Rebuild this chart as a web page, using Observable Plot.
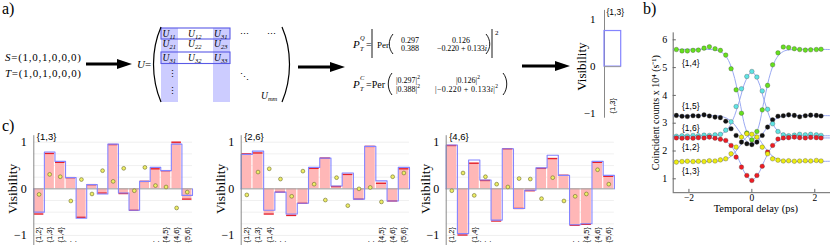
<!DOCTYPE html>
<html><head><meta charset="utf-8">
<script src="https://cdn.jsdelivr.net/npm/d3@7"></script>
<script src="https://cdn.jsdelivr.net/npm/@observablehq/plot@0.6"></script>
<style>
body{margin:0;width:830px;height:245px;position:relative;background:#fff;overflow:hidden;font-family:"Liberation Serif",serif;}
.abs{position:absolute;}
.lbl{position:absolute;font-family:"Liberation Serif",serif;font-size:16px;line-height:1;}
</style></head><body>
<div class="lbl" style="left:2px;top:1px">a)</div>
<div class="lbl" style="left:643px;top:1px">b)</div>
<div class="lbl" style="left:2px;top:118px">c)</div>
<svg width="830" height="245" style="position:absolute;left:0;top:0" font-family="Liberation Serif">
  <text x="5" y="61" font-size="11" textLength="76" lengthAdjust="spacing"><tspan font-style="italic">S</tspan>=(1,0,1,0,0,0)</text>
  <text x="5" y="77" font-size="11" textLength="76" lengthAdjust="spacing"><tspan font-style="italic">T</tspan>=(1,0,1,0,0,0)</text>
  <path d="M86,62.4 H117 V59 L132,64 L117,69 V65.6 H86 Z" fill="#000"/>
  <text x="137" y="68" font-size="11"><tspan font-style="italic">U</tspan>=</text>
  <rect x="161" y="28" width="17" height="74" fill="#ccccff"/>
  <rect x="213" y="28" width="17" height="74" fill="#ccccff"/>
  <rect x="161" y="28" width="69" height="11" fill="none" stroke="#5a5ae6" stroke-width="1.1"/>
  <rect x="161" y="52" width="69" height="11.5" fill="none" stroke="#5a5ae6" stroke-width="1.1"/>
  <path d="M161,27 C151,50 151,78 161,102" fill="none" stroke="#000" stroke-width="1.2"/>
  <path d="M282,27 C292,50 292,78 282,102" fill="none" stroke="#000" stroke-width="1.2"/>
  <g font-size="9.5" font-style="italic">
    <text x="162.5" y="36.5">U<tspan font-size="6.5" dy="2">11</tspan></text>
    <text x="188" y="36.5">U<tspan font-size="6.5" dy="2">12</tspan></text>
    <text x="214" y="36.5">U<tspan font-size="6.5" dy="2">31</tspan></text>
    <text x="162.5" y="47">U<tspan font-size="6.5" dy="2">21</tspan></text>
    <text x="188" y="47">U<tspan font-size="6.5" dy="2">22</tspan></text>
    <text x="214" y="47">U<tspan font-size="6.5" dy="2">23</tspan></text>
    <text x="162.5" y="60.5">U<tspan font-size="6.5" dy="2">31</tspan></text>
    <text x="188" y="60.5">U<tspan font-size="6.5" dy="2">32</tspan></text>
    <text x="214" y="60.5">U<tspan font-size="6.5" dy="2">33</tspan></text>
    <text x="261" y="99">U<tspan font-size="6.5" dy="2">mm</tspan></text>
  </g>
  <g font-size="9">
    <text x="240" y="37">⋯</text><text x="267" y="37">⋯</text>
    <text x="168" y="77">⋮</text><text x="168" y="94">⋮</text>
    <text x="240" y="80">⋱</text>
  </g>
  <path d="M298,65.4 H330 V62 L345,67 L330,72 V68.6 H298 Z" fill="#000"/>
  <g font-size="11">
    <text x="353" y="48" font-style="italic">P</text>
    <text x="360" y="51" font-size="6.5" font-style="italic">T</text>
    <text x="360" y="40" font-size="6.5" font-style="italic">Q</text>
    <text x="366" y="48" font-size="10">=</text>
    <text x="377" y="48" font-size="9">Per</text>
    <text x="353" y="88" font-style="italic">P</text>
    <text x="360" y="91" font-size="6.5" font-style="italic">T</text>
    <text x="360" y="80" font-size="6.5" font-style="italic">C</text>
    <text x="366" y="88" font-size="10">=Per</text>
  </g>
  <line x1="372" y1="29" x2="372" y2="58" stroke="#000" stroke-width="0.9"/>
  <line x1="492" y1="29" x2="492" y2="58" stroke="#000" stroke-width="0.9"/>
  <text x="495" y="35" font-size="7">2</text>
  <path d="M393,34 C388,40 388,48 393,54" fill="none" stroke="#000" stroke-width="0.9"/>
  <path d="M486,34 C491,40 491,48 486,54" fill="none" stroke="#000" stroke-width="0.9"/>
  <g font-size="8" fill="#000">
    <text x="401" y="42.5">0.297</text>
    <text x="401" y="51">0.388</text>
    <text x="452" y="42.5">0.126</text>
    <text x="437" y="51" textLength="50" lengthAdjust="spacing">−0.220 + 0.133<tspan font-style="italic">i</tspan></text>
  </g>
  <path d="M392,73 C387,79 387,89 392,95" fill="none" stroke="#000" stroke-width="0.9"/>
  <path d="M503,73 C508,79 508,89 503,95" fill="none" stroke="#000" stroke-width="0.9"/>
  <g font-size="8" fill="#000">
    <text x="396" y="82.5">|0.297|<tspan font-size="5.5" dy="-4">2</tspan></text>
    <text x="396" y="92">|0.388|<tspan font-size="5.5" dy="-4">2</tspan></text>
    <text x="456" y="82.5">|0.126|<tspan font-size="5.5" dy="-4">2</tspan></text>
    <text x="435" y="92" textLength="63" lengthAdjust="spacing">|−0.220 + 0.133<tspan font-style="italic">i</tspan>|<tspan font-size="5.5" dy="-4">2</tspan></text>
  </g>
  <path d="M522,64.4 H555 V61 L570,66 L555,71 V67.6 H522 Z" fill="#000"/>
</svg>
<div id="pa" class="abs" style="left:570px;top:0px"></div>
<div id="pb" class="abs" style="left:640px;top:25px"></div>
<div id="c1" class="abs" style="left:0px;top:125px"></div>
<div id="c2" class="abs" style="left:200px;top:125px"></div>
<div id="c3" class="abs" style="left:405px;top:125px"></div>
<script>
// ---------- data ----------
const pairs = ["{1,2}","{1,3}","{1,4}","{1,5}","{1,6}","{2,3}","{2,4}","{2,5}","{2,6}","{3,4}","{3,5}","{3,6}","{4,5}","{4,6}","{5,6}"];
// panel a inset
const insetPair = "{1,3}";
const insetValue = 0.76;
// panel c : input {1,3}
const c1Blue  = [-0.50, 0.79, 0.59, 0.24, -0.63, 0.09, -0.11, 0.96, -0.09, -0.46, 0.16, 0.46, 0.39, 0.96, -0.14];
const c1Red   = [-0.54, 0.76, 0.57, 0.24, -0.61, 0.09, -0.09, 0.95, -0.10, -0.46, 0.16, 0.43, 0.39, 1.00, -0.22];
const c1Dots  = [-0.12, 0.31, 0.26, -0.26, 0.20, -0.11, 0.39, 0.16, 0.44, -0.04, 0.46, 0.07, 0.04, -0.41, -0.07];
// panel c : input {2,6}
const c2Blue  = [0.74, 0.81, -0.46, -0.07, -0.54, -0.31, 0.46, 0.66, 0.06, 0.34, -0.22, 0.91, 0.17, -0.26, 0.46];
const c2Red   = [0.75, 0.77, -0.54, -0.07, -0.57, -0.31, 0.44, 0.66, 0.05, 0.31, -0.22, 0.91, 0.12, -0.26, 0.43];
const c2Dots  = [-0.13, 0.36, 0.43, 0.21, -0.16, 0.38, 0.10, -0.24, 0.24, -0.36, 0.00, 0.03, -0.28, 0.26, 0.34];
// panel c : input {4,6}
const c3Blue  = [0.94, -0.96, 0.62, 0.19, -0.67, 0.86, -0.42, -0.03, 0.45, 0.72, 0.29, -0.77, -0.75, 0.59, 0.29];
const c3Red   = [0.93, -0.99, 0.55, 0.18, -0.69, 0.86, -0.42, -0.04, 0.44, 0.65, 0.29, -0.78, -0.76, 0.57, 0.27];
const c3Dots  = [-0.04, 0.34, -0.14, 0.26, 0.10, 0.04, 0.22, 0.21, -0.21, 0.24, -0.26, -0.16, -0.11, 0.41, 0.10];
const labelsAll = ["{1,2}","{1,3}","{1,4}","{4,5}","{4,6}","{5,6}"];
const labelsC3  = ["{1,2}","{1,4}","{4,5}","{4,6}","{5,6}"];
const visTicks = [-1, 0, 1];
// panel b : coincidence counts vs delay
const delays = [-2.4,-2.22,-2.05,-1.87,-1.7,-1.52,-1.35,-1.17,-1.0,-0.83,-0.66,-0.5,-0.33,-0.16,0,0.16,0.33,0.5,0.66,0.83,1.0,1.17,1.35,1.52,1.7,1.87,2.05,2.2];
const green  = [5.65,5.6,5.6,5.62,5.63,5.7,5.75,5.68,5.62,5.45,4.96,4.2,3.36,2.65,2.4,2.7,3.48,4.36,5.1,5.53,5.74,5.72,5.68,5.65,5.63,5.64,5.65,5.66];
const black  = [3.28,3.25,3.24,3.27,3.26,3.3,3.26,3.22,3.2,3.07,2.8,2.56,2.32,2.26,2.23,2.32,2.56,2.86,3.12,3.25,3.27,3.3,3.28,3.23,3.27,3.29,3.28,3.26];
const cyan   = [2.53,2.55,2.54,2.56,2.55,2.57,2.56,2.58,2.6,2.75,3.05,3.6,4.24,4.68,4.86,4.66,4.16,3.5,2.98,2.7,2.58,2.55,2.57,2.6,2.58,2.6,2.58,2.56];
const red    = [2.47,2.46,2.47,2.46,2.48,2.47,2.5,2.46,2.42,2.38,2.2,1.78,1.42,1.12,0.94,1.12,1.45,1.96,2.2,2.43,2.47,2.48,2.5,2.48,2.47,2.49,2.48,2.47];
const yellow = [1.6,1.62,1.63,1.62,1.63,1.62,1.65,1.64,1.68,1.72,1.9,2.14,2.5,2.62,2.6,2.5,2.14,1.9,1.72,1.67,1.64,1.65,1.63,1.64,1.65,1.64,1.66,1.64];
// fitted curves read at these delays
const fitDelays = [-2.5,-1.2,-1.0,-0.8,-0.6,-0.4,-0.2,0,0.2,0.4,0.6,0.8,1.0,1.2,2.5];
const greenFit  = [5.65,5.64,5.58,5.37,4.83,3.87,2.82,2.35,2.82,3.87,4.83,5.37,5.58,5.64,5.65];
const blackFit  = [3.27,3.27,3.25,3.18,3.01,2.71,2.39,2.24,2.39,2.71,3.01,3.18,3.25,3.27,3.27];
const cyanFit   = [2.55,2.56,2.6,2.75,3.13,3.79,4.52,4.85,4.52,3.79,3.13,2.75,2.6,2.56,2.55];
const redFit    = [2.47,2.46,2.44,2.34,2.09,1.65,1.17,0.95,1.17,1.65,2.09,2.34,2.44,2.46,2.47];
const yellowFit = [1.63,1.63,1.65,1.71,1.87,2.15,2.46,2.6,2.46,2.15,1.87,1.71,1.65,1.63,1.63];
const seriesNames = ["{1,4}","{1,5}","{1,6}","{1,2}","{1,3}"];
const seriesColors = ["#66e01e","#111111","#5fe3e3","#ee1c24","#ecec10"];
const seriesLabelY = [5.15,3.6,2.8,2.12,1.28];
const yTicksB = [1,2,3,4,5,6];
const xTicksB = [-2,0,2];

const SERIF = "Liberation Serif";
const SANS = "Liberation Sans";
const BLUE = "#8484ff", PINK = "#ffb7b7", REDL = "#e5202c";
const fmt = d => d < 0 ? "−" + (-d) : String(d);

// ---------- panel a inset ----------
document.getElementById("pa").append(Plot.plot({
  width: 60, height: 125, marginLeft: 34, marginRight: 9.3, marginTop: 9.9, marginBottom: 2.6,
  x: {domain: [0, 1], axis: null}, y: {domain: [-1.2, 1.2], axis: null},
  style: {fontFamily: SERIF, fontSize: "11px", overflow: "visible", background: "none"},
  marks: [
    Plot.ruleX([0], {y1: -1.1, y2: 1.2, stroke: "#888"}),
    Plot.rectY([insetValue], {x1: 0, x2: 1, y1: 0, y2: d => d, fill: "none", stroke: BLUE, strokeWidth: 1.2}),
    Plot.ruleY([0], {x1: 0, x2: 1, stroke: "#999"}),
    Plot.axisY({ticks: visTicks, tickSize: 0, tickPadding: 9, fontSize: 11, label: null, tickFormat: fmt}),
    Plot.text([insetPair], {x: 0, y: 1.16, text: d => d, textAnchor: "start", dx: 2, fontFamily: SANS, fontSize: 8.5}),
    Plot.text([insetPair], {x: 0.5, y: -1.0, text: d => d, rotate: -90, textAnchor: "start", fontFamily: SANS, fontSize: 7.5}),
    Plot.text(["Visibility"], {x: -1.38, y: 0, rotate: -90, textAnchor: "middle", fontSize: 13})
  ]
}));

// ---------- panel c ----------
function cPanel(id, title, blue, redv, dots, labels, width, marginLeft, marginRight, labelX) {
  const n = pairs.length;
  const bars = pairs.map((p, i) => ({i, p, blue: blue[i], red: redv[i], dot: dots[i]}));
  const step = [{x: 0, y: 0}, ...bars.map(d => ({x: d.i, y: d.blue})), {x: n, y: blue[n - 1]}, {x: n, y: 0}];
  const lab = labels.map(l => ({l, i: pairs.indexOf(l)}));
  document.getElementById(id).append(Plot.plot({
    width, height: 120, marginLeft, marginRight, marginTop: 7.4, marginBottom: 0.7,
    x: {domain: [0, n], axis: null}, y: {domain: [-1.2, 1.2], axis: null},
    style: {fontFamily: SERIF, fontSize: "12px", overflow: "visible", background: "none"},
    marks: [
      Plot.ruleY([-1, -0.75, -0.5, -0.25, 0.25, 0.5, 0.75, 1], {x1: 0, x2: n, stroke: "#ececec", strokeWidth: 0.8}),
      Plot.rectY(bars, {x1: "i", x2: d => d.i + 1, y1: 0, y2: "red", fill: PINK, insetLeft: 0.6, insetRight: 0.6}),
      Plot.ruleY(bars, {x1: d => d.i + 0.05, x2: d => d.i + 0.95, y: "red", stroke: REDL, strokeWidth: 1.4}),
      Plot.ruleY([0], {x1: 0, x2: n, stroke: "#9a9a9a", strokeWidth: 1}),
      Plot.line(step, {x: "x", y: "y", curve: "step-after", stroke: BLUE, strokeWidth: 1.1}),
      Plot.dot(bars, {x: d => d.i + 0.5, y: "dot", r: 1.9, fill: "#eeee66", stroke: "#6b6b2e", strokeWidth: 0.6}),
      Plot.ruleX([0], {y1: -1.22, y2: 1.14, stroke: "#8a8a8a"}),
      Plot.axisY({ticks: visTicks, tickSize: 0, tickPadding: 7, fontSize: 12, label: null, tickFormat: fmt}),
      Plot.text([title], {x: 0, y: 1.12, text: d => d, textAnchor: "start", dx: 3, fontFamily: SANS, fontSize: 9.5}),
      Plot.text(lab, {x: d => d.i + 0.5, y: -1.15, text: "l", rotate: -90, textAnchor: "start", fontFamily: SANS, fontSize: 7.5}),
      Plot.text(["· · ·", "· · ·"], {x: [3.5, 11.8], y: -1.13, text: d => d, fontFamily: SANS, fontSize: 8}),
      Plot.text(["Visibility"], {x: labelX, y: 0, rotate: -90, textAnchor: "middle", fontSize: 13.5})
    ]
  }));
}
cPanel("c1", "{1,3}", c1Blue, c1Red, c1Dots, labelsAll, 200, 33.3, 8, -2.0);
cPanel("c2", "{2,6}", c2Blue, c2Red, c2Dots, labelsAll, 215, 40.7, 6, -1.85);
cPanel("c3", "{4,6}", c3Blue, c3Red, c3Dots, labelsC3, 225, 40.7, 16.1, -1.85);

// ---------- panel b ----------
const allSeries = [green, black, cyan, red, yellow];
const allFits = [greenFit, blackFit, cyanFit, redFit, yellowFit];
const pts = [], fits = [];
allSeries.forEach((s, k) => s.forEach((v, j) => pts.push({s: seriesNames[k], x: delays[j], y: v, c: seriesColors[k]})));
allFits.forEach((s, k) => s.forEach((v, j) => fits.push({s: seriesNames[k], x: fitDelays[j], y: v})));
const labB = seriesNames.map((n, k) => ({n, y: seriesLabelY[k]}));
document.getElementById("pb").append(Plot.plot({
  width: 190, height: 195, marginLeft: 32.7, marginRight: 0, marginTop: 7.35, marginBottom: 27.8,
  x: {domain: [-2.5, 2.5], axis: null}, y: {domain: [0.5, 6.25], axis: null},
  style: {fontFamily: SERIF, fontSize: "10px", overflow: "visible", background: "none"},
  marks: [
    Plot.ruleX([-2.5], {y1: 0.5, y2: 6.25, stroke: "#666"}),
    Plot.ruleY([0.5], {x1: -2.5, x2: 2.5, stroke: "#666"}),
    Plot.ruleY(yTicksB, {x1: -2.5, x2: -2.4, stroke: "#666"}),
    Plot.ruleX(xTicksB, {y1: 0.5, y2: 0.62, stroke: "#666"}),
    Plot.axisY({ticks: yTicksB, tickSize: 0, tickPadding: 6, label: null, fontSize: 10, tickFormat: fmt}),
    Plot.axisX({ticks: xTicksB, tickSize: 0, tickPadding: 2, label: null, fontSize: 9.5, tickFormat: fmt}),
    Plot.line(fits, {x: "x", y: "y", z: "s", curve: "catmull-rom", stroke: "#8f9ff0", strokeWidth: 0.9}),
    Plot.dot(pts, {x: "x", y: "y", r: 2.3, fill: "c", stroke: "#333", strokeWidth: 0.3}),
    Plot.text(labB, {x: -2.22, y: "y", text: "n", textAnchor: "start", fontFamily: SANS, fontSize: 8.5}),
    Plot.text(["Temporal delay (ps)"], {frameAnchor: "bottom", dy: 19.5, dx: 4, fontSize: 10.5}),
    Plot.text(["Coincident counts x 10⁴ (s⁻¹)"], {x: -3.06, y: 3.375, rotate: -90, textAnchor: "middle", fontSize: 10})
  ]
}));
</script>
</body></html>
